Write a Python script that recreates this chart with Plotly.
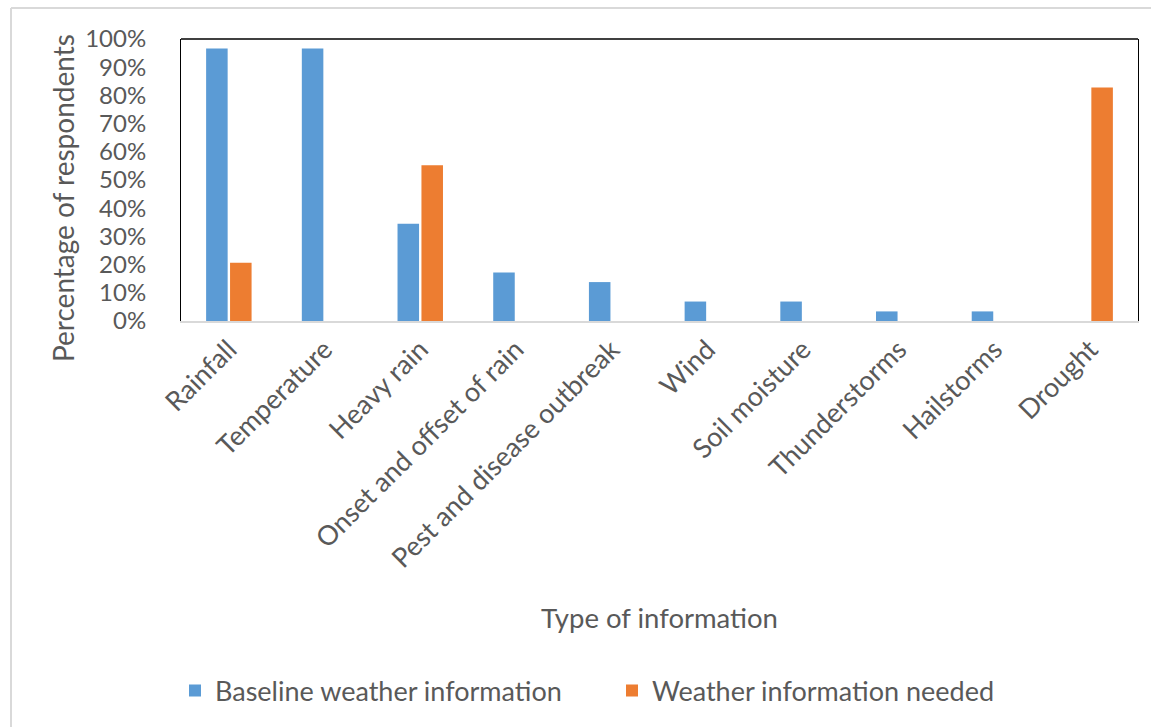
import plotly.graph_objects as go

categories = ["Rainfall", "Temperature", "Heavy rain", "Onset and offset of rain",
              "Pest and disease outbreak", "Wind", "Soil moisture", "Thunderstorms",
              "Hailstorms", "Drought"]
baseline = [0.966, 0.966, 0.345, 0.172, 0.138, 0.069, 0.069, 0.034, 0.034, 0.0]
needed = [0.207, 0.0, 0.552, 0.0, 0.0, 0.0, 0.0, 0.0, 0.0, 0.828]
y_ticks = [i / 10 for i in range(11)]
y_tick_labels = [f"{i * 10}%" for i in range(11)]

FONT = "Lato, 'Open Sans', sans-serif"
TEXT = "#595959"

fig = go.Figure()
fig.add_trace(go.Bar(x=categories, y=baseline, name="Baseline weather information",
                     marker=dict(color="#5B9BD5", line=dict(width=0))))
fig.add_trace(go.Bar(x=categories, y=needed, name="Weather information needed",
                     marker=dict(color="#ED7D31", line=dict(width=0))))

W, H = 1151, 727
L, R, T, B = 181, 1138, 39, 321
pw, ph = R - L, B - T


def px_x(x):
    return (x - L) / pw


def px_y(y):
    return (B - y) / ph


fig.update_layout(
    width=W, height=H,
    margin=dict(l=L, r=W - R, t=T, b=H - B),
    paper_bgcolor="white", plot_bgcolor="white",
    font=dict(family=FONT, color=TEXT, size=26),
    barmode="group", bargap=0.5, bargroupgap=0.1,
    showlegend=True,
    legend=dict(orientation="h", x=px_x(175), y=px_y(691), xanchor="left", yanchor="middle",
                font=dict(size=27, color=TEXT), itemwidth=30, entrywidth=392,
                traceorder="normal"),
    xaxis=dict(showline=True, linecolor="#D9D9D9", linewidth=2, tickangle=-45,
               ticks="", showgrid=False, tickfont=dict(size=27, color=TEXT),
               automargin=False),
    yaxis=dict(range=[0, 1], tickvals=y_ticks, ticktext=y_tick_labels, showgrid=False,
               showline=True, linecolor="black", linewidth=1, mirror=True,
               ticks="", ticklabelstandoff=29, zeroline=False,
               tickfont=dict(size=24, color=TEXT), automargin=False),
    annotations=[
        dict(text="Percentage of respondents", xref="paper", yref="paper",
             x=px_x(63), y=px_y(198), textangle=-90, showarrow=False,
             font=dict(size=28, color=TEXT), xanchor="center", yanchor="middle"),
        dict(text="Type of information", xref="paper", yref="paper",
             x=px_x(659), y=px_y(617), showarrow=False,
             font=dict(size=27.5, color=TEXT), xanchor="center", yanchor="middle"),
    ],
    shapes=[
        # top edge of the plot frame
        dict(type="line", xref="paper", yref="paper", x0=0, x1=1, y0=1, y1=1,
             line=dict(color="black", width=1.5)),
        # outer chart border
        dict(type="line", xref="paper", yref="paper", x0=px_x(11), x1=px_x(1160),
             y0=px_y(8), y1=px_y(8), line=dict(color="#D9D9D9", width=2)),
        dict(type="line", xref="paper", yref="paper", x0=px_x(11), x1=px_x(11),
             y0=px_y(8), y1=px_y(740), line=dict(color="#D9D9D9", width=2)),
    ],
)

fig.write_html("out.html")
